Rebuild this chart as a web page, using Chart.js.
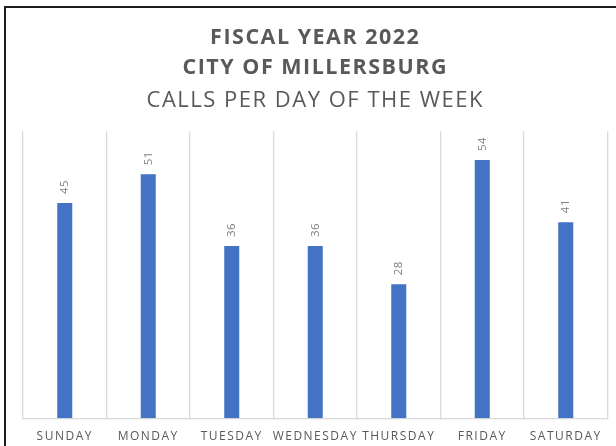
<!DOCTYPE html>
<html>
<head>
<meta charset="utf-8">
<script src="https://cdn.jsdelivr.net/npm/chart.js@4"></script>
<style>
    html, body { margin: 0; padding: 0; background: #fff; }
    #wrap { width: 616px; height: 446px; position: relative; }
</style>
</head>
<body>
<div id="wrap"><canvas id="calls-chart"></canvas></div>
<script>
// Chart data
const titleLines = ['FISCAL YEAR 2022', 'CITY OF MILLERSBURG'];
const subtitleText = 'CALLS PER DAY OF THE WEEK';
const days = ['SUNDAY', 'MONDAY', 'TUESDAY', 'WEDNESDAY', 'THURSDAY', 'FRIDAY', 'SATURDAY'];
const calls = [45, 51, 36, 36, 28, 54, 41];
const yMin = 0;
const yMax = 60;

const textGray = '#595959';
const gridGray = '#d9d9d9';

// Outer frame (the reference is cropped, only left and top edges show)
const framePlugin = {
    id: 'frame',
    beforeDraw(chart) {
        const ctx = chart.ctx;
        ctx.save();
        ctx.fillStyle = '#1e1e1e';
        ctx.fillRect(4, 6, chart.width - 4, 2);
        ctx.fillRect(4, 6, 2, chart.height - 6);
        ctx.restore();
        // spacing used by title + subtitle
        ctx.letterSpacing = '1.5px';
    },
    afterDatasetsDraw(chart) {
        const ctx = chart.ctx;
        const meta = chart.getDatasetMeta(0);
        ctx.save();
        ctx.font = '11.5px "Open Sans"';
        ctx.fillStyle = '#7f7f7f';
        ctx.letterSpacing = '0.5px';
        ctx.textAlign = 'left';
        ctx.textBaseline = 'middle';
        meta.data.forEach((bar, i) => {
            ctx.save();
            ctx.translate(bar.x, bar.y - 9);
            ctx.rotate(-Math.PI / 2);
            ctx.fillText(String(calls[i]), 0, 0);
            ctx.restore();
        });
        ctx.restore();
        // spacing used by the x axis labels (scale drawn after datasets)
        ctx.letterSpacing = '2px';
    }
};

new Chart(document.getElementById('calls-chart'), {
    type: 'bar',
    data: {
        labels: days,
        datasets: [{
            data: calls,
            backgroundColor: '#4472C4',
            categoryPercentage: 1,
            barPercentage: 0.18
        }]
    },
    options: {
        responsive: true,
        maintainAspectRatio: false,
        animation: false,
        events: [],
        layout: {
            padding: { left: 23, right: 8.5, top: 0, bottom: 0 }
        },
        plugins: {
            legend: { display: false },
            tooltip: { enabled: false },
            title: {
                display: true,
                text: titleLines,
                color: textGray,
                font: { family: 'Open Sans', size: 21.5, weight: 'bold', lineHeight: 29.5 / 21.5 },
                padding: { top: 23.3, bottom: 3.2 }
            },
            subtitle: {
                display: true,
                text: subtitleText,
                color: textGray,
                font: { family: 'Open Sans', size: 22, weight: 'normal', lineHeight: 29.5 / 22 },
                padding: { top: 0, bottom: 16.3 }
            }
        },
        scales: {
            x: {
                z: 1,
                offset: true,
                grid: {
                    offset: true,
                    color: gridGray,
                    lineWidth: 1.3,
                    drawTicks: false
                },
                border: { color: gridGray, width: 1.3 },
                ticks: {
                    color: textGray,
                    font: { family: 'Open Sans', size: 12 },
                    padding: 11,
                    maxRotation: 0,
                    autoSkip: false
                },
                afterFit(scale) {
                    scale.height = 27.7;
                }
            },
            y: {
                display: false,
                min: yMin,
                max: yMax
            }
        }
    },
    plugins: [framePlugin]
});
</script>
</body>
</html>
